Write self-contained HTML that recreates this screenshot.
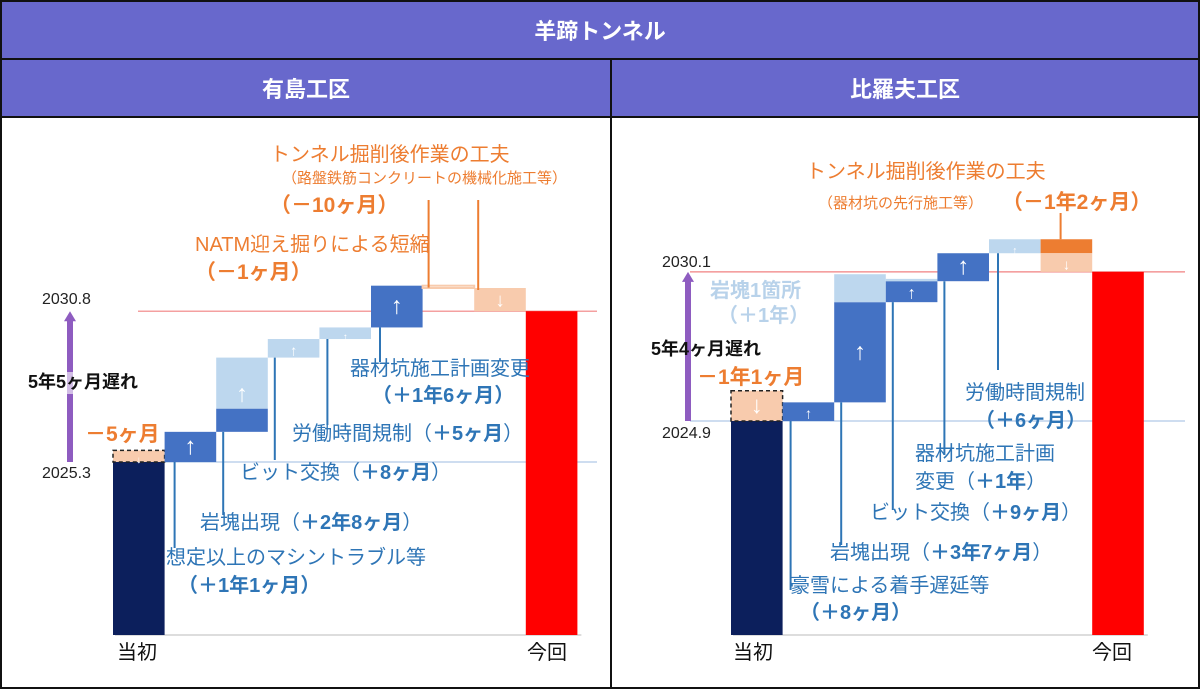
<!DOCTYPE html>
<html><head><meta charset="utf-8">
<style>
body{margin:0;width:1200px;height:689px;background:#fff;overflow:hidden;font-family:"Liberation Sans","Noto Sans CJK JP",sans-serif;position:relative}
.hd{position:absolute;background:#6868cc;color:#fff;font-weight:bold;font-size:22px;display:flex;align-items:center;justify-content:center;box-sizing:border-box;border:2px solid #111}
.t{position:absolute;white-space:nowrap;line-height:1.2}
.b{color:#2e75b6;font-size:20px}
.o{color:#ed7d31;font-size:20px}
.bold{font-weight:bold}
</style></head><body>
<div class="hd" style="left:0;top:0;width:1200px;height:60px">羊蹄トンネル</div>
<div class="hd" style="left:0;top:58px;width:612px;height:60px">有島工区</div>
<div class="hd" style="left:610px;top:58px;width:590px;height:60px">比羅夫工区</div>
<div style="position:absolute;left:0;top:116px;width:1200px;height:573px;box-sizing:border-box;border:2px solid #111;border-top:none"></div>
<div style="position:absolute;left:610px;top:116px;width:2px;height:573px;background:#111"></div>
<svg id="chart" width="1200" height="689" style="position:absolute;left:0;top:0"></svg>

<!-- left labels -->
<div class="t o" style="left:270px;top:143px">トンネル掘削後作業の工夫</div>
<div class="t o" style="left:282px;top:170px;font-size:15px">（路盤鉄筋コンクリートの機械化施工等）</div>
<div class="t o bold" style="left:270px;top:193px;font-size:21px">（－10ヶ月）</div>
<div class="t o" style="left:195px;top:233px">NATM迎え掘りによる短縮</div>
<div class="t o bold" style="left:195px;top:260px;font-size:21px">（－1ヶ月）</div>
<div class="t" style="left:42px;top:290px;font-size:16px;color:#222">2030.8</div>
<div class="t" style="left:42px;top:464px;font-size:16px;color:#222">2025.3</div>
<div class="t bold" style="left:28px;top:372px;font-size:18px;color:#111;background:rgba(255,255,255,0.6)">5年5ヶ月遅れ</div>
<div class="t o bold" style="left:85px;top:422px;font-size:21px">－5ヶ月</div>
<div class="t b" style="left:350px;top:357px">器材坑施工計画変更</div>
<div class="t b bold" style="left:372px;top:384px">（＋1年6ヶ月）</div>
<div class="t b" style="left:292px;top:422px">労働時間規制（<b>＋5ヶ月</b>）</div>
<div class="t b" style="left:240px;top:461px">ビット交換（<b>＋8ヶ月</b>）</div>
<div class="t b" style="left:200px;top:511px">岩塊出現（<b>＋2年8ヶ月</b>）</div>
<div class="t b" style="left:166px;top:546px">想定以上のマシントラブル等</div>
<div class="t b bold" style="left:178px;top:574px">（＋1年1ヶ月）</div>
<div class="t" style="left:117px;top:641px;font-size:20px;color:#111">当初</div>
<div class="t" style="left:527px;top:641px;font-size:20px;color:#111">今回</div>

<!-- right labels -->
<div class="t o" style="left:806px;top:160px">トンネル掘削後作業の工夫</div>
<div class="t o" style="left:818px;top:195px;font-size:15px">（器材坑の先行施工等）</div>
<div class="t o bold" style="left:1002px;top:190px;font-size:21px">（－1年2ヶ月）</div>
<div class="t" style="left:662px;top:253px;font-size:16px;color:#222">2030.1</div>
<div class="t" style="left:662px;top:424px;font-size:16px;color:#222">2024.9</div>
<div class="t bold" style="left:710px;top:279px;font-size:20px;color:#b8d2ea">岩塊1箇所</div>
<div class="t bold" style="left:718px;top:304px;font-size:20px;color:#b8d2ea">（＋1年）</div>
<div class="t bold" style="left:651px;top:339px;font-size:18px;color:#111">5年4ヶ月遅れ</div>
<div class="t o bold" style="left:697px;top:365px;font-size:21px">－1年1ヶ月</div>
<div class="t b" style="left:965px;top:381px">労働時間規制</div>
<div class="t b bold" style="left:975px;top:409px">（＋6ヶ月）</div>
<div class="t b" style="left:915px;top:442px">器材坑施工計画</div>
<div class="t b" style="left:915px;top:470px">変更（<b>＋1年</b>）</div>
<div class="t b" style="left:870px;top:501px">ビット交換（<b>＋9ヶ月</b>）</div>
<div class="t b" style="left:830px;top:541px">岩塊出現（<b>＋3年7ヶ月</b>）</div>
<div class="t b" style="left:790px;top:574px">豪雪による着手遅延等</div>
<div class="t b bold" style="left:800px;top:601px">（＋8ヶ月）</div>
<div class="t" style="left:733px;top:641px;font-size:20px;color:#111">当初</div>
<div class="t" style="left:1092px;top:641px;font-size:20px;color:#111">今回</div>

<script>
// Left panel (有島工区): change in months per step
const leftCategories = ["想定以上のマシントラブル等","岩塊出現","ビット交換","労働時間規制","器材坑施工計画変更","NATM迎え掘り","トンネル掘削後作業の工夫"];
const leftValues = [13, 32, 8, 5, 18, -1, -10];
const leftDarkPart = [13, 10, 0, 0, 18, 0, 0];
const leftInitialCut = -5;
const leftTotalDelay = 65;
// Right panel (比羅夫工区)
const rightCategories = ["豪雪による着手遅延等","岩塊出現","ビット交換","器材坑施工計画変更","労働時間規制","トンネル掘削後作業の工夫"];
const rightValues = [8, 43, 9, 12, 6, -14];
const rightDarkPart = [8, 43, 9, 12, 0, 6];
const rightGhost = [0, 12, 1, 0, 0, 0];
const rightInitialCut = -13;
const rightTotalDelay = 64;

const svg = document.getElementById('chart');
const NS = 'http://www.w3.org/2000/svg';
function el(tag, attrs){const e=document.createElementNS(NS,tag);for(const k in attrs)e.setAttribute(k,attrs[k]);svg.appendChild(e);return e;}
function arrow(x,y1,y2,up,color){
  if(Math.abs(y2-y1)<10)return;
  const m=(y1+y2)/2, h=Math.min(12,Math.abs(y2-y1)/2-2);
  const a=el('text',{x:x,y:m+7,'text-anchor':'middle','font-size':Math.max(10,h*2),'fill':color,'font-family':'Liberation Sans, Noto Sans CJK JP, sans-serif'});
  a.textContent=up?'↑':'↓';
  
  
}
function panel(cfg){
  const y=v=>cfg.base - v*cfg.ppm; // months above baseline
  const x0=cfg.x0, w=cfg.w, bottom=635;
  // reference lines
  let l=el('line',{x1:cfg.lineL,x2:cfg.lineR,y1:y(0),y2:y(0),stroke:'#9dbbe0','stroke-width':1});
  
  l=el('line',{x1:cfg.lineL,x2:cfg.lineR,y1:y(cfg.total),y2:y(cfg.total),stroke:'#f08080','stroke-width':1.2});
  
  l=el('line',{x1:cfg.x0+2,x2:cfg.x0+cfg.w*(cfg.values.length+2)+4,y1:bottom,y2:bottom,stroke:'#bbb','stroke-width':1});
  
  // delay arrow
  const ax=cfg.arrowX;
  let r=el('rect',{x:ax-3,y:y(cfg.total)+8,width:6,height:y(0)-y(cfg.total)-8,fill:'#8e5cc0'});
  
  let p=el('polygon',{points:`${ax-6},${y(cfg.total)+10} ${ax+6},${y(cfg.total)+10} ${ax},${y(cfg.total)}`,fill:'#8e5cc0'});
  
  // initial bar
  r=el('rect',{x:x0,y:y(0),width:w,height:bottom-y(0),fill:'#0c1f5c'});
  
  r=el('rect',{x:x0,y:y(-cfg.cut),width:w,height:y(0)-y(-cfg.cut),fill:'#f8cbad',stroke:'#222','stroke-dasharray':'4,3','stroke-width':1.5});
  
  arrow(x0+w/2,y(-cfg.cut),y(0),false,'#fff');
  let cum=0;
  cfg.values.forEach((v,i)=>{
    const bx=x0+w*(i+1);
    const a=cum,b=cum+v;cum=b;
    const lo=Math.min(a,b),hi=Math.max(a,b);
    const dark=cfg.dark[i];
    if(v>0){
      if(dark>0){
        const rr=el('rect',{x:bx,y:y(a+dark),width:w,height:y(a)-y(a+dark),fill:'#4472c4'});
        
      }
      if(v-dark>0){
        const rr=el('rect',{x:bx,y:y(b),width:w,height:y(a+dark)-y(b),fill:'#bdd7ee'});
        
      }
      const g=cfg.ghost?cfg.ghost[i]:0;
      if(g>0){
        const rr=el('rect',{x:bx,y:y(b+g),width:w,height:y(b)-y(b+g),fill:'#bdd7ee'});
        
      }
      arrow(bx+w/2,y(b),y(a),true,'#fff');
    } else {
      if(dark>0){
        const rr=el('rect',{x:bx,y:y(a),width:w,height:y(a-dark)-y(a),fill:'#ed7d31'});
        
      }
      const rr=el('rect',{x:bx,y:y(a-dark),width:w,height:Math.max(2,y(b)-y(a-dark)),fill:'#f8cbad'});
      
      if(v>-3){rr.setAttribute('fill','#fff');rr.setAttribute('stroke','#f8cbad');rr.setAttribute('stroke-width',2);}
      arrow(bx+w/2,y(a-dark),y(b),false,'#fff');
    }
    // connector
    const c=cfg.conn[i];
    const ln=el('line',{x1:bx+c[0],x2:bx+c[0],y1:v>0?y(a):y(a),y2:c[1],stroke:v>0?'#2e75b6':'#ed7d31','stroke-width':2});
    if(v<0){ln.setAttribute('y1',c[1]);ln.setAttribute('y2',y(a)-(c[2]||0));}
    
  });
  const fx=x0+w*(cfg.values.length+1);
  r=el('rect',{x:fx,y:y(cum),width:w,height:bottom-y(cum),fill:'#ff0000'});
  
}
panel({base:462,ppm:2.32,x0:113,w:51.6,values:leftValues,dark:leftDarkPart,cut:leftInitialCut,total:leftTotalDelay,
  lineL:138,lineR:597,arrowX:70,conn:[[10,548],[7,515],[7,460],[8,425],[9,362],[6,200,-2],[4,200,-2]]});
panel({base:421,ppm:2.33,x0:731,w:51.6,values:rightValues,dark:rightDarkPart,ghost:rightGhost,cut:rightInitialCut,total:rightTotalDelay,
  lineL:690,lineR:1185,arrowX:688,conn:[[8,590],[7,545],[7,510],[7,455],[9,370],[20,213]]});
</script>
</body></html>
